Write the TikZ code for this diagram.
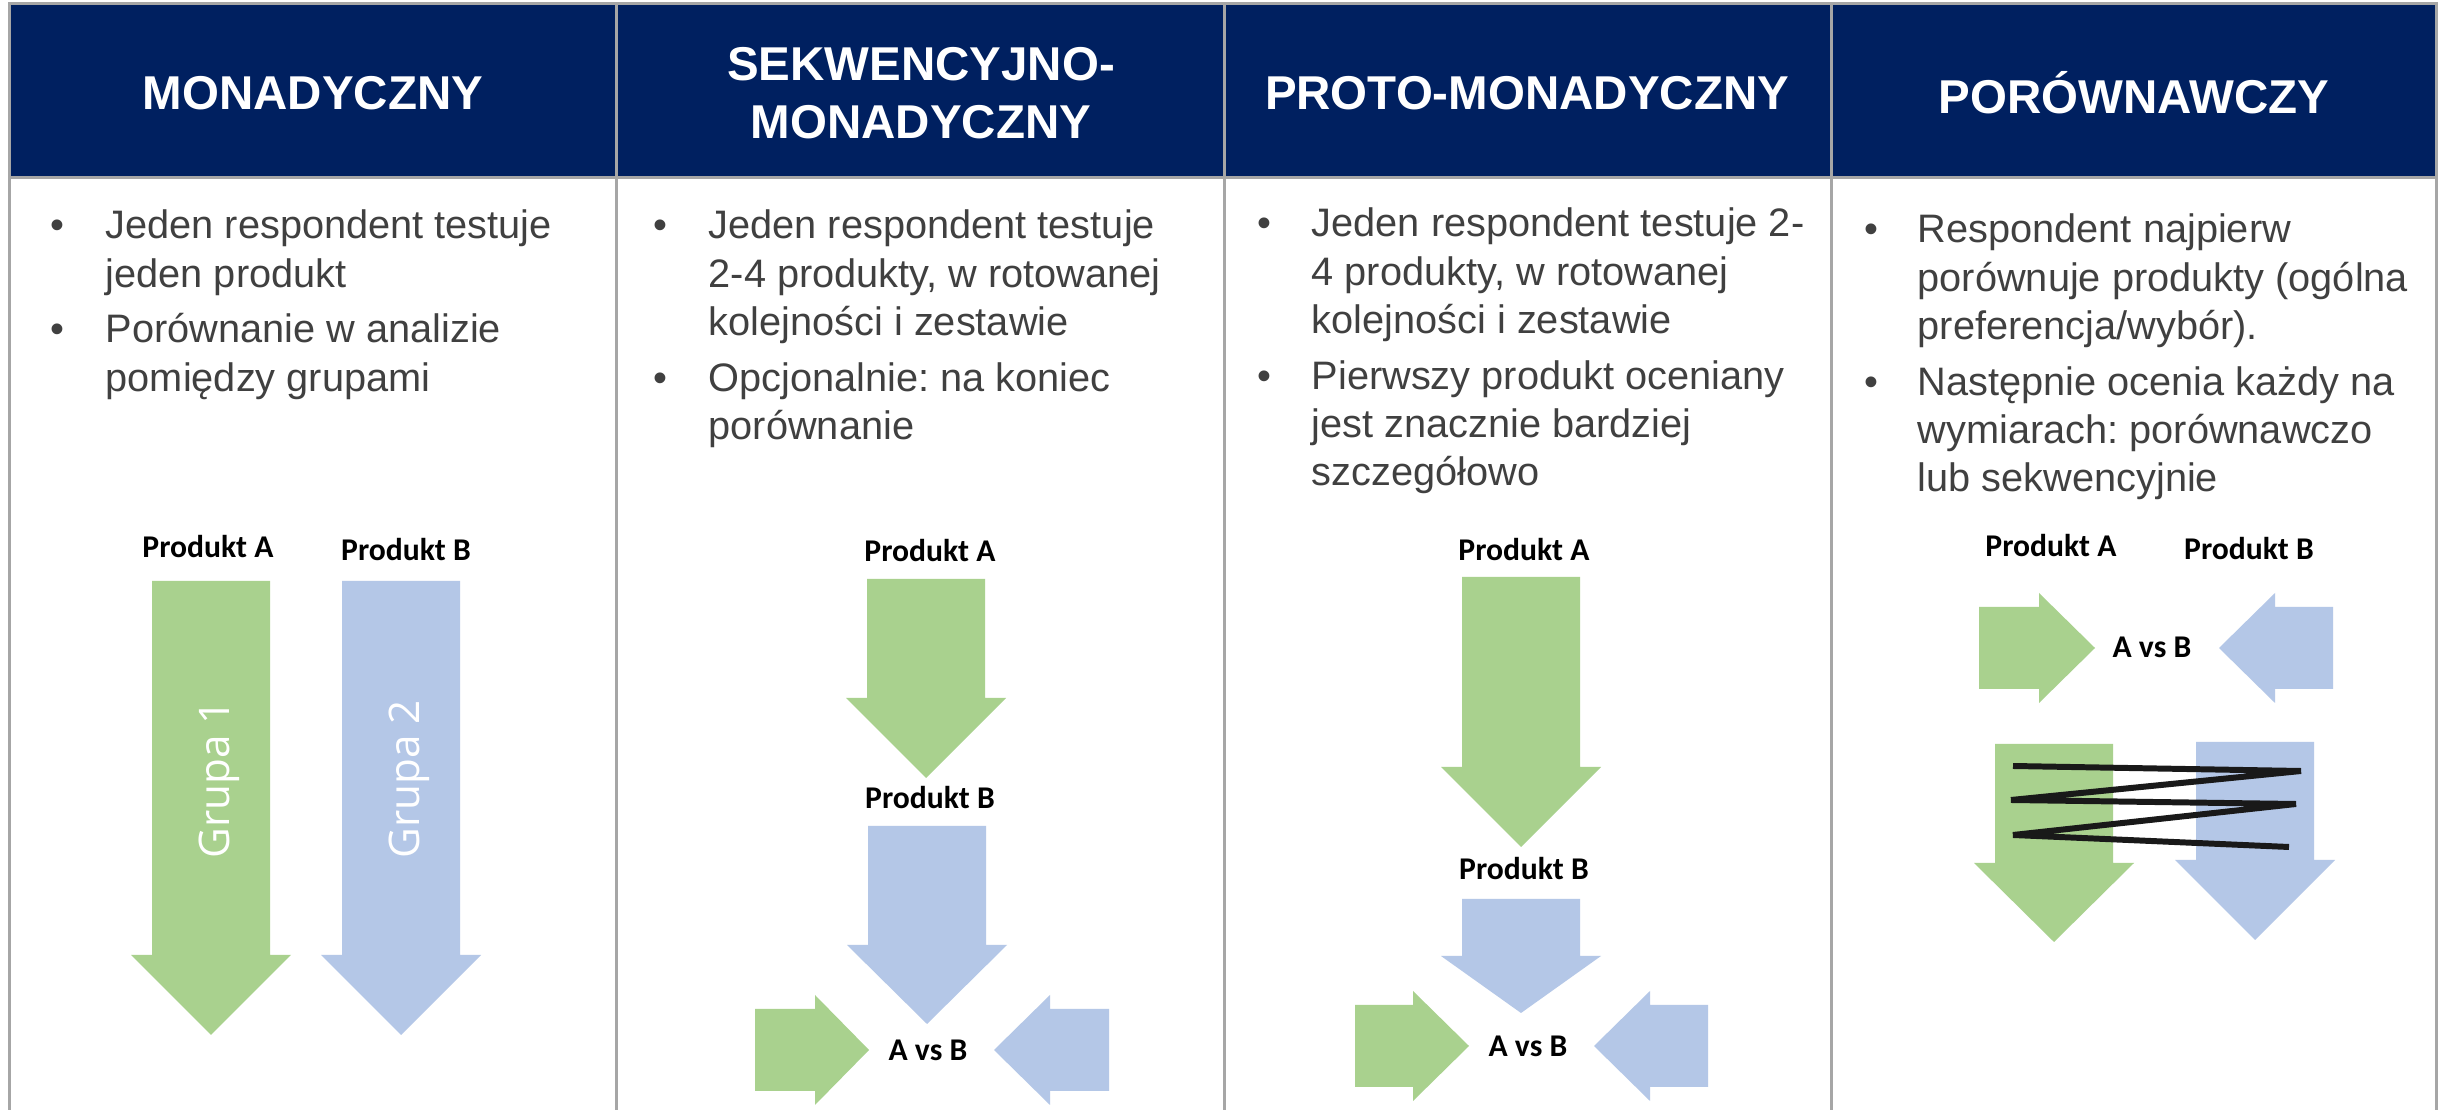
\documentclass[tikz,border=0pt]{standalone}
\usepackage{fontspec}
\usepackage{xcolor}
\setmainfont{Liberation Sans}
\newfontfamily\calibri{Carlito}
\newfontfamily\grupafont{Open Sans}
\frenchspacing
\definecolor{navy}{RGB}{0,32,96}
\definecolor{gridgray}{RGB}{166,166,166}
\definecolor{lightgreen}{RGB}{169,209,142}
\definecolor{lightblue}{RGB}{180,199,231}
\definecolor{bodygray}{RGB}{64,64,64}
\newcommand{\pionowa}[5]{\fill[#1] ({#2-59},#3) -- ({#2+59},#3) -- ({#2+59},#4) -- ({#2+80},#4) -- (#2,#5) -- ({#2-80},#4) -- ({#2-59},#4) -- cycle;}
\newcommand{\pozioma}[5]{\fill[#1] (#2,{#5-41}) -- (#3,{#5-41}) -- (#3,{#5-55}) -- (#4,#5) -- (#3,{#5+55}) -- (#3,{#5+41}) -- (#2,{#5+41}) -- cycle;}

\begin{document}
\begin{tikzpicture}[
  x=0.01cm, y=-0.01cm,
  siatka/.style={draw=gridgray, line width=0.85pt},
  naglowek/.style={text=white, font=\bfseries\fontsize{13.5}{16.5}\selectfont, align=center, inner sep=0},
  opis/.style={text=bodygray, font=\fontsize{11.3}{13.75}\selectfont, anchor=base west, inner sep=0},
  etykieta/.style={font=\calibri\bfseries\fontsize{9}{11}\selectfont, anchor=base, inner sep=0},
  grupa/.style={text=white, font=\grupafont\fontsize{12}{14}\selectfont, rotate=90, anchor=base, inner sep=0},
  zline/.style={draw=black!90, line width=1.7pt}
]
\useasboundingbox (0,0) rectangle (2438,1110);
\fill[white] (0,0) rectangle (2438,1110);
\fill[navy] (9,5) rectangle (2438,177);

\draw[siatka] (8,4) -- (2438,4);
\draw[siatka] (9,178) -- (2438,178);
\foreach \kx in {9.5,616.5,1224,1831,2436.5}
  \draw[siatka] (\kx,4) -- (\kx,1110);

\node[naglowek] (hmono) at (313,93) {MONADYCZNY};
\node[naglowek] (hsek) at (921,93) {SEKWENCYJNO-\\MONADYCZNY};
\node[naglowek] (hproto) at (1527,93) {PROTO-MONADYCZNY};
\node[naglowek] (hporow) at (2134,93) {PORÓWNAWCZY};

\node[opis] (opis1) at (50,239) {\begin{tabular}[t]{@{}p{0.55cm}@{}l@{}}
\textbullet & Jeden respondent testuje\\ & jeden produkt\\[2pt]
\textbullet & Porównanie w analizie\\ & pomiędzy grupami
\end{tabular}};
\node[opis] (opis2) at (653,239) {\begin{tabular}[t]{@{}p{0.55cm}@{}l@{}}
\textbullet & Jeden respondent testuje\\ & 2-4 produkty, w rotowanej\\ & kolejności i zestawie\\[2pt]
\textbullet & Opcjonalnie: na koniec\\ & porównanie
\end{tabular}};
\node[opis] (opis3) at (1257,237) {\begin{tabular}[t]{@{}p{0.54cm}@{}l@{}}
\textbullet & Jeden respondent testuje 2-\\ & 4 produkty, w rotowanej\\ & kolejności i zestawie\\[2pt]
\textbullet & Pierwszy produkt oceniany\\ & jest znacznie bardziej\\ & szczegółowo
\end{tabular}};
\node[opis] (opis4) at (1864,243) {\begin{tabular}[t]{@{}p{0.53cm}@{}l@{}}
\textbullet & Respondent najpierw\\ & porównuje produkty (ogólna\\ & preferencja/wybór).\\[2pt]
\textbullet & Następnie ocenia każdy na\\ & wymiarach: porównawczo\\ & lub sekwencyjnie
\end{tabular}};

\pionowa{lightgreen}{211}{581}{955}{1035}
\pionowa{lightblue}{401}{581}{955}{1035}
\node[etykieta] (a1) at (208,558) {Produkt A};
\node[etykieta] (b1) at (406,561) {Produkt B};
\node[grupa] (g1) at (229,779) {Grupa 1};
\node[grupa] (g2) at (419,779) {Grupa 2};

\pionowa{lightgreen}{926}{579}{698}{778}
\pionowa{lightblue}{927}{826}{945}{1024}
\pozioma{lightgreen}{755}{815}{869}{1050}
\pozioma{lightblue}{1109}{1050}{994}{1050}
\node[etykieta] (a2) at (930,562) {Produkt A};
\node[etykieta] (b2) at (930,809) {Produkt B};
\node[etykieta] (ab2) at (928,1061) {A vs B};

\pionowa{lightgreen}{1521}{577}{767}{847}
\pionowa{lightblue}{1521}{899}{956}{1013}
\pozioma{lightgreen}{1355}{1413}{1469}{1046}
\pozioma{lightblue}{1708}{1650}{1594}{1046}
\node[etykieta] (a3) at (1524,561) {Produkt A};
\node[etykieta] (b3) at (1524,880) {Produkt B};
\node[etykieta] (ab3) at (1528,1057) {A vs B};

\pozioma{lightgreen}{1979}{2039}{2095}{648}
\pozioma{lightblue}{2333}{2275}{2219}{648}
\pionowa{lightgreen}{2054}{744}{863}{942}
\pionowa{lightblue}{2255}{742}{860}{940}
\node[etykieta] (a4) at (2051,557) {Produkt A};
\node[etykieta] (b4) at (2249,560) {Produkt B};
\node[etykieta] (ab4) at (2152,658) {A vs B};
\draw[zline] (2013,766) -- (2301,771) -- (2011,800) -- (2296,804) -- (2013,835) -- (2289,847);
\end{tikzpicture}
\end{document}
